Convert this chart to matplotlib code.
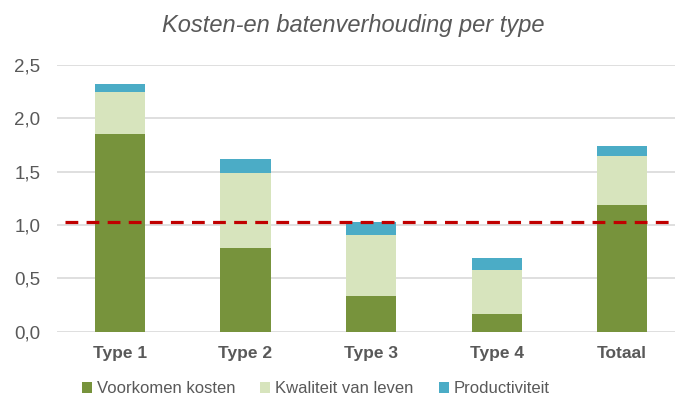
import numpy as np
import matplotlib.pyplot as plt
from matplotlib.ticker import FuncFormatter

categories = ['Type 1', 'Type 2', 'Type 3', 'Type 4', 'Totaal']
voorkomen_kosten = [1.85, 0.78, 0.33, 0.17, 1.19]
kwaliteit_van_leven = [0.40, 0.71, 0.58, 0.41, 0.46]
productiviteit = [0.07, 0.13, 0.12, 0.11, 0.09]
drempel = 1.025

plt.rcParams['font.family'] = ['Liberation Sans', 'DejaVu Sans']
grey = '#595959'

fig = plt.figure(figsize=(6.75, 4.03), dpi=100)
ax = fig.add_axes([0.0844, 0.177, 0.9156, 0.662])

x = np.arange(len(categories))
w = 0.4
b1 = np.array(voorkomen_kosten)
b2 = b1 + np.array(kwaliteit_van_leven)
ax.bar(x, voorkomen_kosten, w, color='#77933C', label='Voorkomen kosten', zorder=2)
ax.bar(x, kwaliteit_van_leven, w, bottom=b1, color='#D7E4BD', label='Kwaliteit van leven', zorder=2)
ax.bar(x, productiviteit, w, bottom=b2, color='#4BACC6', label='Productiviteit', zorder=2)

ax.hlines(drempel, -0.44, 4.42, colors='#C00000', linestyles=(0, (4, 2.6)), linewidth=2.3, zorder=3)

ax.set_xlim(-0.5, 4.42)
ax.set_ylim(0, 2.5)
ax.set_yticks(np.arange(0, 2.51, 0.5))
ax.yaxis.set_major_formatter(FuncFormatter(lambda v, p: f'{v:.1f}'.replace('.', ',')))
ax.set_xticks(x)
ax.set_xticklabels(categories, fontweight='bold')
ax.grid(axis='y', color='#D9D9D9', linewidth=1.2, zorder=0)
for s in ax.spines.values():
    s.set_visible(False)
ax.tick_params(axis='both', length=0, colors=grey)
ax.tick_params(axis='x', pad=10, labelsize=12.5)
ax.tick_params(axis='y', pad=12, labelsize=13.5)

fig.text(0.523, 0.937, 'Kosten-en batenverhouding per type', ha='center', va='center',
         fontsize=17, style='italic', color=grey)

fig.legend(loc='center', bbox_to_anchor=(0.468, 0.035), ncol=3, frameon=False,
           fontsize=12, labelcolor=grey, handlelength=0.6, handleheight=0.6,
           handletextpad=0.3, columnspacing=1.5)

fig.savefig('out.png', dpi=100)
